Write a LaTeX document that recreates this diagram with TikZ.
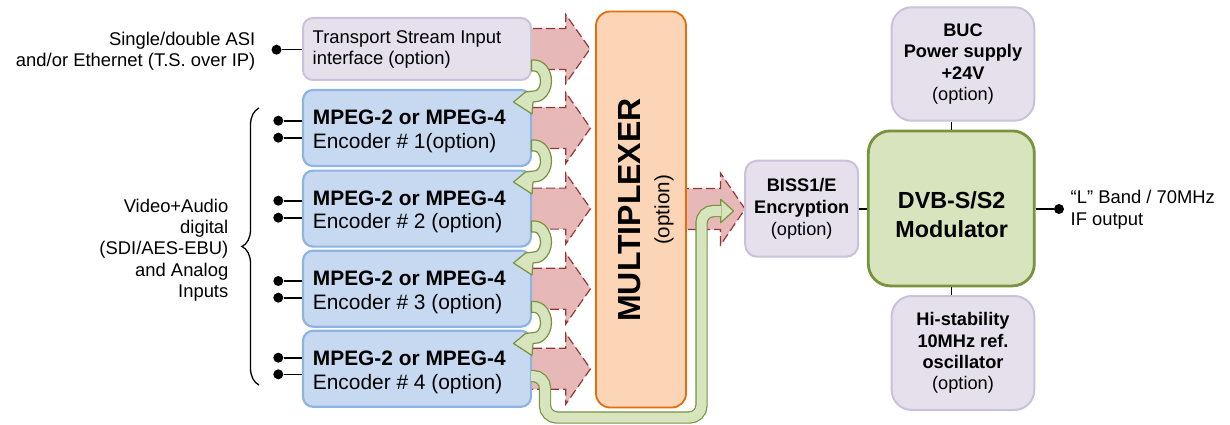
\documentclass[tikz,border=0pt]{standalone}
\usepackage{fontspec}
\setmainfont{Liberation Sans}
\usetikzlibrary{decorations.pathreplacing,calc}
\definecolor{lavfill}{RGB}{229,224,236}
\definecolor{lavline}{RGB}{204,193,218}
\definecolor{bluefill}{RGB}{198,217,241}
\definecolor{blueline}{RGB}{141,180,226}
\definecolor{orfill}{RGB}{251,213,181}
\definecolor{orline}{RGB}{228,108,10}
\definecolor{gfill}{RGB}{215,228,189}
\definecolor{gline}{RGB}{119,147,60}
\definecolor{rfill}{RGB}{230,185,184}
\definecolor{rline}{RGB}{149,55,53}
\newcommand{\redarr}[5]{% #1 cy, #2 x start, #3 x head base, #4 x tip, #5 head half height
  \draw[redarrow] (#2,#1-20.5) -- (#3,#1-20.5) -- (#3,#1-#5) -- (#4,#1) -- (#3,#1+#5) -- (#3,#1+20.5) -- (#2,#1+20.5) -- cycle;}
\newcommand{\uturnarr}[2]{% #1 cx, #2 cy
  \draw[gshape, shift={(#1,#2)}] (-3,-21) -- (0,-21) arc[start angle=-90, end angle=95, x radius=17, y radius=21]
    -- (-2.5,33) -- (-21,21) -- (-9,11) -- (-0.52,9.96) arc[start angle=95, end angle=-90, x radius=6, y radius=10]
    -- (-3,-10) -- cycle;}
\begin{document}
\begin{tikzpicture}[x=1pt,y=-1pt,
  lavbox/.style={draw=lavline, fill=lavfill, line width=2pt, rounded corners=10pt, inner sep=0pt},
  encbox/.style={draw=blueline, fill=bluefill, line width=2.2pt, rounded corners=10pt, inner sep=0pt, minimum width=228pt, minimum height=76pt},
  muxbox/.style={draw=orline, fill=orfill, line width=1.8pt, rounded corners=14pt, inner sep=0pt},
  modbox/.style={draw=gline, fill=gfill, line width=2.8pt, rounded corners=22pt, inner sep=0pt},
  redarrow/.style={fill=rfill, draw=rline, line width=1.2pt, dash pattern=on 9pt off 4pt, line join=miter},
  gshape/.style={fill=gfill, draw=gline, line width=1.2pt, line join=round},
  gband/.style={draw=gline, line width=1.2pt, double=gfill, double distance=10pt, rounded corners=12pt},
  wire/.style={line width=1.6pt, black},
  dot/.style={circle, fill=black, inner sep=0pt, minimum size=10pt},
  txt/.style={inner sep=0pt, font=\fontsize{18.4pt}{21.4pt}\selectfont},
  boxtxt/.style={inner sep=0pt, align=center, font=\fontsize{18.2pt}{21.4pt}\selectfont},
  enctxt/.style={inner sep=0pt, anchor=west, align=left, font=\fontsize{20.9pt}{23.4pt}\selectfont}]
\useasboundingbox (0,0) rectangle (1230,425);

% red dashed block arrows
\redarr{49}{520}{565.7}{590}{34.5}
\redarr{128}{520}{565.7}{590.5}{35.5}
\redarr{208.6}{520}{565.7}{590.5}{35.5}
\redarr{288.7}{520}{565.7}{590.5}{35.5}
\redarr{368.8}{520}{565.7}{590.5}{35.5}
\redarr{209}{680}{720.5}{745}{36}

% boxes
\node[lavbox, minimum width=228pt, minimum height=62pt] (ts) at (417,49) {};
\node[encbox] (enc1) at (417,128) {};
\node[encbox] (enc2) at (417,208.6) {};
\node[encbox] (enc3) at (417,288.7) {};
\node[encbox] (enc4) at (417,368.8) {};
\node[muxbox, minimum width=90pt, minimum height=396pt] (mux) at (641,209.5) {};
\node[lavbox, minimum width=113pt, minimum height=96pt, rounded corners=12pt] (biss) at (801.7,208.7) {};
\node[lavbox, minimum width=142.6pt, minimum height=113.4pt, rounded corners=20pt] (buc) at (963,64) {};
\node[modbox, minimum width=166pt, minimum height=155pt] (mod) at (951.3,208.4) {};
\node[lavbox, minimum width=142.6pt, minimum height=114pt, rounded corners=20pt] (hi) at (963,353) {};

% box texts
\node[txt, anchor=west, align=left] (tstext) at (312.5,49.7) {Transport Stream Input\\interface (option)};
\node[enctxt] (enc1t) at (312.7,131.5) {\textbf{MPEG-2 or MPEG-4}\\Encoder \# 1(option)};
\node[enctxt] (enc2t) at (312.7,212.1) {\textbf{MPEG-2 or MPEG-4}\\Encoder \# 2 (option)};
\node[enctxt] (enc3t) at (312.7,292.2) {\textbf{MPEG-2 or MPEG-4}\\Encoder \# 3 (option)};
\node[enctxt] (enc4t) at (312.7,372.3) {\textbf{MPEG-2 or MPEG-4}\\Encoder \# 4 (option)};
\node[rotate=90, inner sep=0pt, font=\bfseries\fontsize{32pt}{36pt}\selectfont] (muxt) at (630,210) {MULTIPLEXER};
\node[rotate=90, inner sep=0pt, font=\fontsize{20.6pt}{24pt}\selectfont] (muxo) at (664,210) {(option)};
\node[boxtxt, font=\fontsize{18.2pt}{22.4pt}\selectfont] (bisst) at (801.7,208.8) {\textbf{BISS1/E}\\\textbf{Encryption}\\(option)};
\node[boxtxt] (buct) at (963,64.2) {\textbf{BUC}\\\textbf{Power supply}\\\textbf{+24V}\\(option)};
\node[boxtxt] (hit) at (963,353) {\textbf{Hi-stability}\\\textbf{10MHz ref.}\\\textbf{oscillator}\\(option)};
\node[inner sep=0pt, align=center, font=\bfseries\fontsize{23.3pt}{29pt}\selectfont] (modt) at (951.7,214.5) {DVB-S/S2\\Modulator};

% long green arrow from encoder 4 to BISS
\draw[gshape] (720.7,199.3) -- (733.5,211) -- (720.7,222.7) -- cycle;
\coordinate (gstart) at (531,376);
\coordinate (gend) at (721.3,211);
\draw[gband] (gstart) -- ++(14,0) |- (701.5,417.5) -- (701.5,211) -- (gend);

% U-turn arrows
\uturnarr{534.5}{81}
\uturnarr{534.5}{161}
\uturnarr{534.5}{242}
\uturnarr{534.5}{322.5}

% wires and dots
\node[dot] (tsdot) at (276.5,49.7) {};
\draw[wire] (tsdot) -- (tsdot -| ts.west);
\foreach \i/\ya/\yb in {1/120.7/137.7, 2/200.7/217.7, 3/281/297.7, 4/357.7/374.3} {
  \node[dot] (da\i) at (278.3,\ya) {};
  \node[dot] (db\i) at (278.3,\yb) {};
  \draw[wire] (da\i) -- (da\i -| enc\i.west);
  \draw[wire] (db\i) -- (db\i -| enc\i.west);
}
\draw[wire] (biss.east) -- (biss.east -| mod.west);
\draw[wire] (mod.north) -- (mod.north |- buc.south);
\draw[wire] (mod.south) -- (mod.south |- hi.north);
\node[dot] (outdot) at (1059,209) {};
\draw[wire] (mod.east |- outdot) -- (outdot);

% brace
\draw[line width=1.3pt, decorate, decoration={brace, amplitude=17pt}] (259,385) -- (259,108);

% outside labels
\node[txt, anchor=east, align=right] (tslabel) at (255.5,51.5) {Single/double ASI\\and/or Ethernet (T.S. over IP)};
\node[txt, anchor=east, align=right, font=\fontsize{18.4pt}{21.3pt}\selectfont] (vidlabel) at (228.5,250) {Video+Audio\\digital\\(SDI/AES-EBU)\\and Analog\\Inputs};
\node[txt, anchor=west, align=left, font=\fontsize{18.4pt}{22.3pt}\selectfont] (outlabel) at (1070.5,210) {“L” Band / 70MHz\\IF output};
\end{tikzpicture}
\end{document}
